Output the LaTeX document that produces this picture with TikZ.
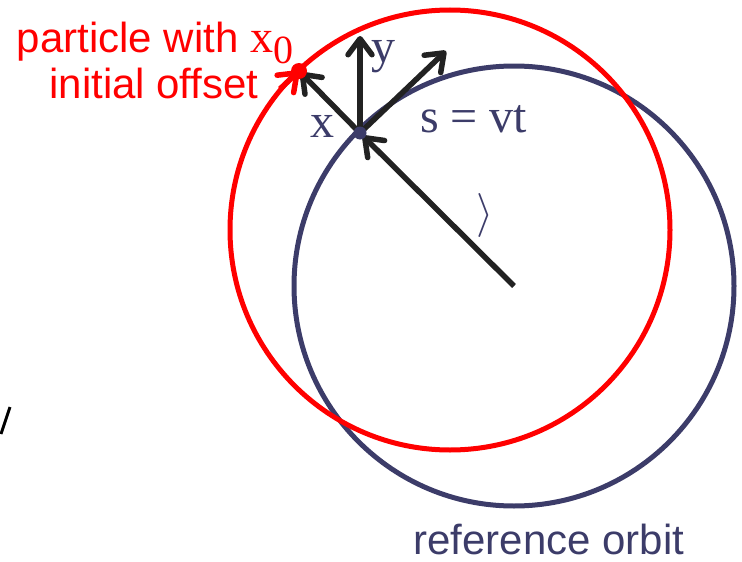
\documentclass[tikz,border=0pt]{standalone}
\usepackage{fontspec}
\setmainfont{Liberation Serif}
\newfontfamily\arialfont{Liberation Sans}
\usetikzlibrary{arrows.meta,positioning}
\definecolor{orbitblue}{RGB}{60,60,105}
\definecolor{offsetred}{RGB}{255,0,0}
\definecolor{axisgray}{RGB}{34,34,34}

\begin{document}
\begin{tikzpicture}[x=1pt, y=-1pt,
  axis/.style={draw=axisgray, line width=5.5pt, -{Straight Barb[length=16pt,width=24pt,round]}},
  orbit/.style={line width=5pt},
  mathlbl/.style={text=orbitblue, font=\fontsize{48}{50}\selectfont, inner sep=0pt},
  sanslbl/.style={font=\arialfont\fontsize{42}{46}\selectfont, inner sep=0pt, text depth=0pt}]
\useasboundingbox (0,0) rectangle (742,562);
% centres of the two orbits
\coordinate (refc) at (514,286);
\coordinate (offc) at (450,230);
% reference particle and offset particle
\coordinate (O) at (360,133);
\coordinate (P) at (299,71);
\coordinate (ytip) at (360,36);
\coordinate (stip) at (446,51);
\coordinate (ptail) at (280,89);
\draw[orbit, orbitblue] (refc) circle[radius=220];
\draw[orbit, offsetred] (offc) circle[radius=220];
% local frame
\draw[axis, shorten >=4pt] (refc) -- (O);
\draw[axis, shorten >=2pt] (O) -- (P);
\draw[axis] (O) -- (ytip);
\draw[axis] (O) -- (stip);
\draw[axis, draw=offsetred] (ptail) -- (P);
\fill[offsetred] (P) circle[radius=8];
\fill[orbitblue] (O) circle[radius=6.5];
% labels
\node[mathlbl, anchor=base west] (ylbl) at (371,62) {y};
\node[mathlbl, anchor=base west] (xlbl) at (310,137) {x};
\node[mathlbl, anchor=base west] (slbl) at (420,132) {s = vt};
\node[text=orbitblue, inner sep=0pt] (theta) at (485,215) {\scalebox{4.4}{$\rangle$}};
\node[sanslbl, text=offsetred, anchor=base] (partlbl) at (155,52) {particle with {\rmfamily\fontsize{46}{48}\selectfont x\lower11pt\hbox{\fontsize{40}{40}\selectfont 0}}};
\node[sanslbl, text=offsetred, anchor=base] (offlbl) at (154,98) {initial offset};
\node[sanslbl, text=orbitblue, anchor=base] (reflbl) at (549,554) {reference orbit};
\draw[line width=3pt] (10,407) -- (1,434);
\end{tikzpicture}
\end{document}
